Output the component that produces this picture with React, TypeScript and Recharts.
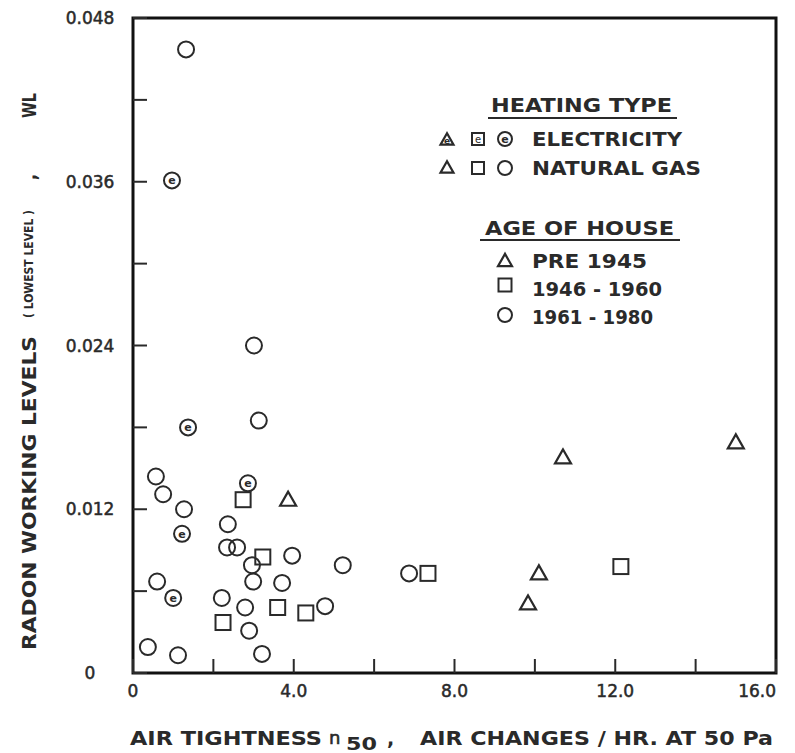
import React from 'react';
import { ScatterChart, Scatter, XAxis, YAxis, ReferenceArea } from 'recharts';

// ---- tick values and labels ----
const xTicks = [0, 2, 4, 6, 8, 10, 12, 14, 16];
const xLabeledValues = [0, 4, 8, 12, 16];
const xTickLabels = ['0', '4.0', '8.0', '12.0', '16.0'];
const yTicks = [0, 0.006, 0.012, 0.018, 0.024, 0.03, 0.036, 0.042, 0.048];
const yLabeledValues = [0, 0.012, 0.024, 0.036, 0.048];
const yTickLabels = ['0', '0.012', '0.024', '0.036', '0.048'];

// ---- data: x = air tightness n50 (ach @ 50 Pa), y = radon WL ----
const pre1945Gas = [
  { x: 3.86, y: 0.0127 },
  { x: 9.83, y: 0.0051 },
  { x: 10.1, y: 0.0073 },
  { x: 10.7, y: 0.0158 },
  { x: 15.0, y: 0.0169 },
];
const y1946Gas = [
  { x: 2.24, y: 0.0037 },
  { x: 2.74, y: 0.0127 },
  { x: 3.23, y: 0.0085 },
  { x: 3.6, y: 0.0048 },
  { x: 4.3, y: 0.0044 },
  { x: 7.34, y: 0.0073 },
  { x: 12.14, y: 0.0078 },
];
const y1961Gas = [
  { x: 1.32, y: 0.0457 },
  { x: 3.01, y: 0.024 },
  { x: 3.13, y: 0.0185 },
  { x: 0.57, y: 0.0144 },
  { x: 0.75, y: 0.0131 },
  { x: 1.27, y: 0.012 },
  { x: 2.36, y: 0.0109 },
  { x: 2.34, y: 0.0092 },
  { x: 2.59, y: 0.0092 },
  { x: 2.96, y: 0.0079 },
  { x: 3.96, y: 0.0086 },
  { x: 5.22, y: 0.0079 },
  { x: 2.99, y: 0.0067 },
  { x: 3.71, y: 0.0066 },
  { x: 0.6, y: 0.0067 },
  { x: 2.21, y: 0.0055 },
  { x: 2.79, y: 0.0048 },
  { x: 4.78, y: 0.0049 },
  { x: 2.89, y: 0.0031 },
  { x: 0.37, y: 0.0019 },
  { x: 1.12, y: 0.0013 },
  { x: 3.21, y: 0.0014 },
  { x: 6.87, y: 0.0073 },
];
const y1961Elec = [
  { x: 0.97, y: 0.0361 },
  { x: 1.37, y: 0.018 },
  { x: 2.86, y: 0.0139 },
  { x: 1.22, y: 0.0102 },
  { x: 1.0, y: 0.0055 },
];

const INK = '#2a2a2a';
const FONT = '"DejaVu Sans", sans-serif';

const Tri = ({ cx, cy, s = 16, e = false }: any) => {
  const h = s * 0.88;
  return (
    <g>
      <polygon
        points={`${cx},${cy - h / 2 - 1} ${cx - s / 2},${cy + h / 2 - 1} ${cx + s / 2},${cy + h / 2 - 1}`}
        fill="none"
        stroke={INK}
        strokeWidth={2.2}
        strokeLinejoin="miter"
      />
      {e && (
        <text x={cx} y={cy + 4} textAnchor="middle" fontSize={9} fontWeight="bold" fontFamily={FONT} fill={INK}>
          e
        </text>
      )}
    </g>
  );
};

const Sq = ({ cx, cy, s = 15, e = false }: any) => (
  <g>
    <rect x={cx - s / 2} y={cy - s / 2} width={s} height={s} fill="none" stroke={INK} strokeWidth={2} />
    {e && (
      <text x={cx} y={cy + 4} textAnchor="middle" fontSize={10} fontFamily={FONT} fill={INK}>
        e
      </text>
    )}
  </g>
);

const Circ = ({ cx, cy, r = 8, e = false }: any) => (
  <g>
    <circle cx={cx} cy={cy} r={r} fill="none" stroke={INK} strokeWidth={2} />
    {e && (
      <text x={cx} y={cy + 4} textAnchor="middle" fontSize={11} fontWeight="bold" fontFamily={FONT} fill={INK}>
        e
      </text>
    )}
  </g>
);

const tickTextProps = {
  fontSize: 17,
  fontFamily: FONT,
  fill: INK,
  stroke: INK,
  strokeWidth: 0.5,
};

const XTick = (props: any) => {
  const { x, y, payload } = props;
  const v = payload.value;
  const idx = xLabeledValues.indexOf(v);
  const last = v === 16;
  return (
    <g>
      <line x1={x} x2={x} y1={y} y2={y - 14} stroke={INK} strokeWidth={2} />
      {idx >= 0 && (
        <text x={x} y={y + 24} textAnchor={last ? 'end' : 'middle'} {...tickTextProps}>
          {xTickLabels[idx]}
        </text>
      )}
    </g>
  );
};

const YTick = (props: any) => {
  const { x, y, payload } = props;
  const v = payload.value;
  const idx = yLabeledValues.findIndex((t) => Math.abs(t - v) < 1e-9);
  return (
    <g>
      <line x1={x} x2={x + 14} y1={y} y2={y} stroke={INK} strokeWidth={2} />
      {idx >= 0 && (
        <text x={x - 43} y={y + 6} textAnchor="middle" {...tickTextProps}>
          {yTickLabels[idx]}
        </text>
      )}
    </g>
  );
};

const txt = (s: string, x: number, y: number, len: number, size = 20) => (
  <text
    x={x}
    y={y}
    fontSize={size}
    fontWeight="bold"
    fontFamily={FONT}
    fill={INK}
    textLength={len}
    lengthAdjust="spacingAndGlyphs"
  >
    {s}
  </text>
);

const Overlay = () => (
  <svg
    width={795}
    height={753}
    style={{ position: 'absolute', left: 0, top: 0, pointerEvents: 'none' }}
  >
    {/* legend: heating type */}
    {txt('HEATING TYPE', 491, 112, 181)}
    <line x1={488} x2={677} y1={118} y2={118} stroke={INK} strokeWidth={2} />
    <Tri cx={447} cy={140} s={13} e />
    <Sq cx={478} cy={139} s={12} e />
    <Circ cx={505} cy={139} r={7} e />
    {txt('ELECTRICITY', 532, 146, 150)}
    <Tri cx={447} cy={168} s={13} />
    <Sq cx={478} cy={168} s={12} />
    <Circ cx={505} cy={168} r={7} />
    {txt('NATURAL GAS', 532, 175, 169)}

    {/* legend: age of house */}
    {txt('AGE OF HOUSE', 485, 235, 189)}
    <line x1={480} x2={680} y1={240} y2={240} stroke={INK} strokeWidth={2} />
    <Tri cx={505} cy={261} s={14} />
    {txt('PRE 1945', 532, 268, 115)}
    <Sq cx={505} cy={285} s={13} />
    {txt('1946 - 1960', 532, 296, 130)}
    <Circ cx={505} cy={315} r={7} />
    {txt('1961 - 1980', 532, 324, 121)}

    {/* x-axis title */}
    {txt('AIR  TIGHTNESS', 130, 745, 192)}
    <text x={329} y={744} fontSize={18} fontFamily={FONT} fill={INK} stroke={INK} strokeWidth={0.6}>n</text>
    <text x={346} y={750} fontSize={17} fontWeight="bold" fontFamily={FONT} fill={INK} textLength={31} lengthAdjust="spacingAndGlyphs">
      50
    </text>
    <text x={387} y={745} fontSize={19} fontWeight="bold" fontFamily={FONT} fill={INK}>,</text>
    {txt('AIR  CHANGES / HR.  AT  50 Pa', 420, 745, 353)}

    {/* y-axis title */}
    <g transform="translate(36,650) rotate(-90)">
      {txt('RADON  WORKING  LEVELS', 0, 0, 314)}
    </g>
    <g transform="translate(33,318) rotate(-90)">
      {txt('( LOWEST LEVEL )', 0, 0, 108, 13)}
    </g>
    <g transform="translate(36,180) rotate(-90)">
      {txt(',', 0, 0, 6)}
    </g>
    <g transform="translate(36,118) rotate(-90)">
      {txt('WL', 0, 0, 25)}
    </g>
  </svg>
);

export default function App() {
  return (
    <div style={{ position: 'absolute', left: 0, top: 0, width: 795, height: 753, background: '#fff' }}>
      <ScatterChart width={795} height={753} margin={{ top: 18, right: 19, bottom: 50, left: 73 }}>
        <XAxis
          type="number"
          dataKey="x"
          domain={[0, 16]}
          ticks={xTicks}
          interval={0}
          height={30}
          tickSize={0}
          tickMargin={0}
          tickLine={false}
          axisLine={false}
          tick={<XTick />}
          allowDataOverflow
        />
        <YAxis
          type="number"
          dataKey="y"
          domain={[0, 0.048]}
          ticks={yTicks}
          interval={0}
          width={60}
          tickSize={0}
          tickMargin={0}
          tickLine={false}
          axisLine={false}
          tick={<YTick />}
          allowDataOverflow
        />
        <ReferenceArea
          x1={0}
          x2={16}
          y1={0}
          y2={0.048}
          fill="none"
          fillOpacity={0}
          stroke="#111"
          strokeWidth={3}
          ifOverflow="visible"
        />
        <Scatter
          data={pre1945Gas}
          isAnimationActive={false}
          shape={(p: any) => <Tri cx={p.cx} cy={p.cy} />}
        />
        <Scatter
          data={y1946Gas}
          isAnimationActive={false}
          shape={(p: any) => <Sq cx={p.cx} cy={p.cy} />}
        />
        <Scatter
          data={y1961Gas}
          isAnimationActive={false}
          shape={(p: any) => <Circ cx={p.cx} cy={p.cy} />}
        />
        <Scatter
          data={y1961Elec}
          isAnimationActive={false}
          shape={(p: any) => <Circ cx={p.cx} cy={p.cy} e />}
        />
      </ScatterChart>
      <Overlay />
    </div>
  );
}
